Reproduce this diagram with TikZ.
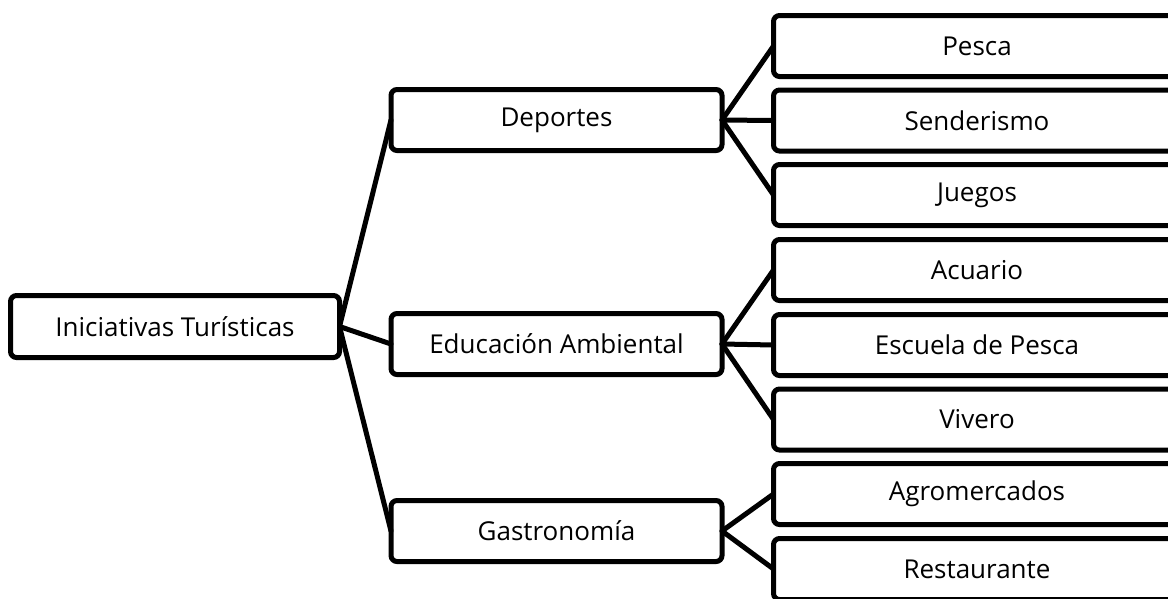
\documentclass[tikz,border=0pt]{standalone}
\usepackage{fontspec}
\setmainfont{Open Sans}
\begin{document}
\begin{tikzpicture}[x=1pt,y=-1pt,
  box/.style={draw=black, line width=5pt, rounded corners=6pt, fill=white,
    inner sep=0pt, outer sep=0pt, minimum height=61pt,
    font=\fontsize{26}{30}\selectfont, text=black},
  rootbox/.style={box, minimum width=329pt, minimum height=62pt},
  midbox/.style={box, minimum width=331pt},
  leafbox/.style={box, minimum width=407pt},
  link/.style={draw=black, line width=5pt, line cap=round}]
\clip (0,0) rectangle (1168,598);
\fill[white] (0,0) rectangle (1168,598);

% root
\node[rootbox] (root) at (175,326.5) {Iniciativas Turísticas};

% second level
\node[midbox] (dep) at (556.5,120) {Deportes};
\node[midbox] (edu) at (556.5,344) {Educación Ambiental};
\node[midbox] (gas) at (556.5,531) {Gastronomía};

% third level
\node[leafbox] (pes) at (977,46)    {Pesca};
\node[leafbox] (sen) at (977,120.5) {Senderismo};
\node[leafbox] (jue) at (977,195)   {Juegos};
\node[leafbox] (acu) at (977,270)   {Acuario};
\node[leafbox] (esc) at (977,345)   {Escuela de Pesca};
\node[leafbox] (viv) at (977,419.5) {Vivero};
\node[leafbox] (agr) at (977,494)   {Agromercados};
\node[leafbox] (res) at (977,569)   {Restaurante};

% connectors from each parent to its children
\foreach \a/\b in {root/dep, root/edu, root/gas,
                   dep/pes, dep/sen, dep/jue,
                   edu/acu, edu/esc, edu/viv,
                   gas/agr, gas/res}
  \draw[link] (\a.east) -- (\b.west);
\end{tikzpicture}
\end{document}
